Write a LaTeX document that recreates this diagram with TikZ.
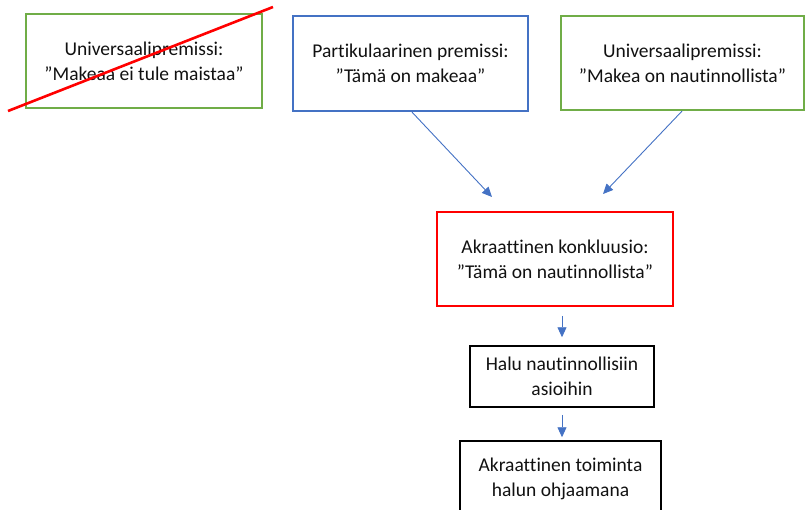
\documentclass[tikz,border=0pt]{standalone}
\usepackage{fontspec}
\setmainfont{Carlito}[Ligatures=NoCommon]
\usetikzlibrary{arrows.meta,calc}
\definecolor{ogreen}{HTML}{70AD47}
\definecolor{oblue}{HTML}{4472C4}
\definecolor{ored}{HTML}{FF0000}
\definecolor{txt}{HTML}{111111}
\tikzset{
  box/.style={draw, rectangle, align=center, inner sep=0pt, text=txt,
    font=\fontsize{19.5}{25}\selectfont},
  arr/.style={draw=oblue, line width=0.9pt, -{Triangle[length=10pt,width=9pt]}, color=oblue},
}
\begin{document}
\begin{tikzpicture}[x=1pt,y=-1pt]
\useasboundingbox (0,0) rectangle (806,509);
\clip (0,0) rectangle (806,509);
\node[box, draw=ogreen, line width=2.2pt, minimum width=236pt, minimum height=94pt] (u1) at (144,61)
  {Universaalipremissi:\\”Makeaa ei tule maistaa”};
\node[box, draw=oblue, line width=2.2pt, minimum width=235pt, minimum height=95pt] (p) at (410.5,63.5)
  {Partikulaarinen premissi:\\”Tämä on makeaa”};
\node[box, draw=ogreen, line width=2.2pt, minimum width=243pt, minimum height=94pt] (u2) at (682.5,63)
  {Universaalipremissi:\\”Makea on nautinnollista”};
\node[box, draw=ored, line width=1.6pt, minimum width=236pt, minimum height=94pt] (k) at (555,259)
  {Akraattinen konkluusio:\\”Tämä on nautinnollista”};
\node[box, draw=black, line width=1.5pt, minimum width=184pt, minimum height=61pt] (h) at (562,376.5)
  {Halu nautinnollisiin\\asioihin};
\node[box, draw=black, line width=1.5pt, minimum width=201pt, minimum height=76pt] (t) at (560.5,479)
  {Akraattinen toiminta\\halun ohjaamana};
\coordinate (c1a) at (492,197);
\coordinate (c2a) at (603,194);
\coordinate (x1) at (8,111);
\coordinate (x2) at (273,7);
\draw[arr] (p.south -| 412,0) -- (c1a);
\draw[arr] (u2.south -| 682,0) -- (c2a);
\draw[arr, shorten <=9pt, shorten >=8pt] (k.south -| h.north) -- (h.north);
\draw[arr, shorten <=7pt, shorten >=3pt] (h.south) -- (h.south |- t.north);
\draw[ored, line width=2.6pt] (x1) -- (x2);
\end{tikzpicture}
\end{document}
